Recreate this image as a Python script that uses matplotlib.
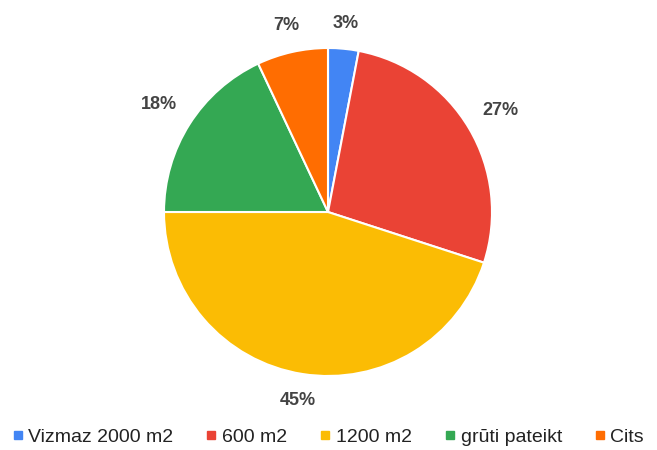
import numpy as np
import matplotlib
matplotlib.use("Agg")
import matplotlib.pyplot as plt
from matplotlib.lines import Line2D

labels = ["Vizmaz 2000 m2", "600 m2", "1200 m2", "grūti pateikt", "Cits"]
values = [3, 27, 45, 18, 7]
colors = ["#4285F4", "#EA4335", "#FBBC04", "#34A853", "#FF6D01"]

plt.rcParams["font.family"] = ["Liberation Sans", "DejaVu Sans"]

W, H = 657, 450
fig = plt.figure(figsize=(W / 100, H / 100), dpi=100)
cx, cy, r = 328, 212, 164
ax = fig.add_axes([(cx - r) / W, (H - cy - r) / H, 2 * r / W, 2 * r / H])

wedges, _ = ax.pie(values, colors=colors, startangle=90, counterclock=False,
                   radius=1, wedgeprops=dict(edgecolor="white", linewidth=1.5))
ax.set_xlim(-1, 1)
ax.set_ylim(-1, 1)
ax.axis("off")

# percent labels outside, nearest corner at a fixed gap from the rim
fig.canvas.draw()
renderer = fig.canvas.get_renderer()
pad = 16 / r
total = sum(values)
for w, v in zip(wedges, values):
    ang = np.deg2rad((w.theta1 + w.theta2) / 2)
    t = ax.text(0, 0, f"{round(100 * v / total)}%", ha="center", va="center",
                fontsize=13, fontweight="bold", color="#444444", clip_on=False)
    bb = t.get_window_extent(renderer)
    hw, hh = bb.width / 2 / r, bb.height / 2 / r
    d = 1 + pad + abs(np.cos(ang)) * hw + abs(np.sin(ang)) * hh
    t.set_position((d * np.cos(ang), d * np.sin(ang)))

handles = [Line2D([], [], marker="s", linestyle="", markersize=6, color=c) for c in colors]
fig.legend(handles, labels, loc="center", bbox_to_anchor=(0.5, 1 - 437 / H), ncol=5,
           frameon=False, fontsize=14, handlelength=0.5, handletextpad=0.3,
           columnspacing=1.7, labelcolor="#222222")

fig.savefig("out.png", dpi=100, facecolor="white")
